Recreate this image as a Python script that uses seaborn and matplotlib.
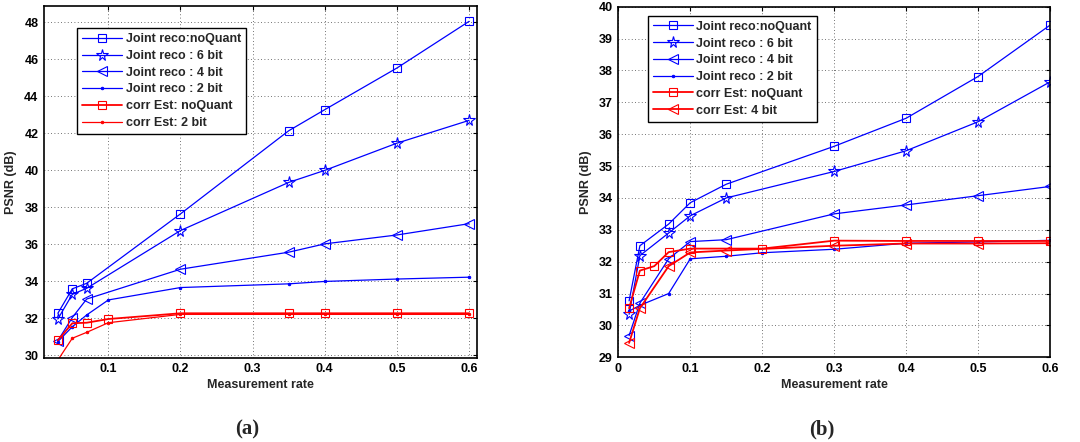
import matplotlib
matplotlib.use("Agg")
import matplotlib.pyplot as plt
import seaborn as sns
import numpy as np

# ---------------- data: panel (a) ----------------
a_x_joint = [0.03, 0.05, 0.07, 0.2, 0.35, 0.4, 0.5, 0.6]
a_joint_noq = [32.28, 33.6, 33.9, 37.65, 42.14, 43.28, 45.53, 48.05]
a_joint_6 = [31.97, 33.3, 33.63, 36.75, 39.35, 40.0, 41.47, 42.7]
a_joint_4 = [30.8, 32.05, 33.05, 34.66, 35.58, 36.03, 36.51, 37.12]
a_x_fine = [0.03, 0.05, 0.07, 0.1, 0.2, 0.35, 0.4, 0.5, 0.6]
a_joint_2 = [30.75, 31.55, 32.19, 33.0, 33.67, 33.87, 34.0, 34.13, 34.23]
a_corr_noq = [30.82, 31.74, 31.77, 31.97, 32.28, 32.28, 32.28, 32.28, 32.28]
a_corr_2 = [29.75, 30.93, 31.25, 31.77, 32.22, 32.22, 32.22, 32.22, 32.22]

# ---------------- data: panel (b) ----------------
b_x_joint = [0.015, 0.03, 0.07, 0.1, 0.15, 0.3, 0.4, 0.5, 0.6]
b_joint_noq = [30.77, 32.5, 33.18, 33.85, 34.43, 35.62, 36.5, 37.81, 39.42]
b_joint_6 = [30.35, 32.19, 32.9, 33.44, 34.0, 34.83, 35.48, 36.39, 37.64]
b_joint_4 = [29.68, 30.7, 32.09, 32.63, 32.69, 33.5, 33.78, 34.07, 34.36]
b_x_joint2 = [0.015, 0.03, 0.07, 0.1, 0.15, 0.2, 0.3, 0.4, 0.5, 0.6]
b_joint_2 = [30.45, 30.63, 31.0, 32.09, 32.17, 32.28, 32.39, 32.58, 32.62, 32.67]
b_x_corr_noq = [0.015, 0.03, 0.05, 0.07, 0.1, 0.2, 0.3, 0.4, 0.5, 0.6]
b_corr_noq = [30.54, 31.72, 31.86, 32.3, 32.41, 32.41, 32.66, 32.65, 32.65, 32.65]
b_x_corr_4 = [0.015, 0.03, 0.07, 0.1, 0.15, 0.3, 0.4, 0.5, 0.6]
b_corr_4 = [29.45, 30.54, 31.86, 32.29, 32.35, 32.5, 32.57, 32.57, 32.58]

a_labels = ["Joint reco:noQuant", "Joint reco : 6 bit", "Joint reco : 4 bit",
            "Joint reco : 2 bit", "corr Est: noQuant", "corr Est: 2 bit"]
b_labels = ["Joint reco:noQuant", "Joint reco : 6 bit", "Joint reco : 4 bit",
            "Joint reco : 2 bit", "corr Est: noQuant", "corr Est: 4 bit"]

x_label = "Measurement rate"
y_label = "PSNR (dB)"
a_yticks = list(range(30, 49, 2))
b_yticks = list(range(29, 41, 1))
a_xticks = [0.1, 0.2, 0.3, 0.4, 0.5, 0.6]
b_xticks = [0, 0.1, 0.2, 0.3, 0.4, 0.5, 0.6]

sns.set_style("white")
plt.rcParams["font.family"] = ["Liberation Sans", "DejaVu Sans"]
plt.rcParams["font.weight"] = "bold"

BLUE = (0, 0, 1)
RED = (1, 0, 0)

fig = plt.figure(figsize=(10.8, 4.42), dpi=100)
axA = fig.add_axes([44 / 1080, 1 - 357.7 / 442, 433 / 1080, 351.7 / 442])
axB = fig.add_axes([618.3 / 1080, 1 - 357.3 / 442, 431.7 / 1080, 350.6 / 442])

styles = {
    "sq": dict(marker="s", markersize=6, markerfacecolor="none", markeredgewidth=0.8),
    "star": dict(marker="*", markersize=8.5, markerfacecolor="none", markeredgewidth=0.8),
    "tri": dict(marker="<", markersize=7.5, markerfacecolor="none", markeredgewidth=0.8),
    "dot": dict(marker=".", markersize=3.5),
}


def draw(ax, x, y, color, style, label, lw=0.9):
    sns.lineplot(x=x, y=y, ax=ax, color=color, linewidth=lw, label=label,
                 markeredgecolor=color, sort=False, estimator=None, **styles[style])


draw(axA, a_x_joint, a_joint_noq, BLUE, "sq", a_labels[0])
draw(axA, a_x_joint, a_joint_6, BLUE, "star", a_labels[1])
draw(axA, a_x_joint, a_joint_4, BLUE, "tri", a_labels[2])
draw(axA, a_x_fine, a_joint_2, BLUE, "dot", a_labels[3])
draw(axA, a_x_fine, a_corr_noq, RED, "sq", a_labels[4], lw=1.3)
draw(axA, a_x_fine, a_corr_2, RED, "dot", a_labels[5])

draw(axB, b_x_joint, b_joint_noq, BLUE, "sq", b_labels[0])
draw(axB, b_x_joint, b_joint_6, BLUE, "star", b_labels[1])
draw(axB, b_x_joint, b_joint_4, BLUE, "tri", b_labels[2])
draw(axB, b_x_joint2, b_joint_2, BLUE, "dot", b_labels[3])
draw(axB, b_x_corr_noq, b_corr_noq, RED, "sq", b_labels[4], lw=1.3)
draw(axB, b_x_corr_4, b_corr_4, RED, "tri", b_labels[5], lw=1.3)


def style_axes(ax, xlim, ylim, xticks, yticks, xtl, legpos):
    ax.set_xlim(*xlim)
    ax.set_ylim(*ylim)
    ax.set_xticks(xticks)
    ax.set_xticklabels(xtl)
    ax.set_yticks(yticks)
    ax.set_yticklabels([str(v) for v in yticks])
    ax.grid(True, linestyle=(0, (1, 3)), color="#444444", linewidth=0.6)
    ax.set_axisbelow(True)
    for sp in ax.spines.values():
        sp.set_visible(True)
        sp.set_color("black")
        sp.set_linewidth(1.2)
    ax.tick_params(direction="in", top=True, right=True, length=3, width=0.8,
                   labelsize=9, pad=4, colors="black")
    for t in ax.get_xticklabels() + ax.get_yticklabels():
        t.set_fontweight("bold")
    ax.set_xlabel(x_label, fontsize=9, fontweight="bold", labelpad=3)
    ax.set_ylabel(y_label, fontsize=9, fontweight="bold", labelpad=5)
    leg = ax.legend(loc="upper left", bbox_to_anchor=legpos, frameon=True,
                    fancybox=False, edgecolor="black", framealpha=1,
                    prop=dict(size=9, weight="bold"), labelspacing=0.38,
                    handlelength=3.2, handletextpad=0.3, borderpad=0.4,
                    borderaxespad=0.0)
    leg.get_frame().set_linewidth(1.0)


style_axes(axA, (0.0108, 0.611), (29.88, 48.88), a_xticks, a_yticks,
           [str(v) for v in a_xticks], (0.077, 0.937))
style_axes(axB, (0, 0.6), (29, 40), b_xticks, b_yticks,
           ["0"] + [str(v) for v in b_xticks[1:]], (0.068, 0.974))

fig.text(247 / 1080, 1 - 429 / 442, "(a)", ha="center", va="center",
         fontsize=15, fontweight="bold", family=["Liberation Serif", "DejaVu Serif"])
fig.text(822 / 1080, 1 - 429 / 442, "(b)", ha="center", va="center",
         fontsize=15, fontweight="bold", family=["Liberation Serif", "DejaVu Serif"])

fig.savefig("out.png", dpi=100)
